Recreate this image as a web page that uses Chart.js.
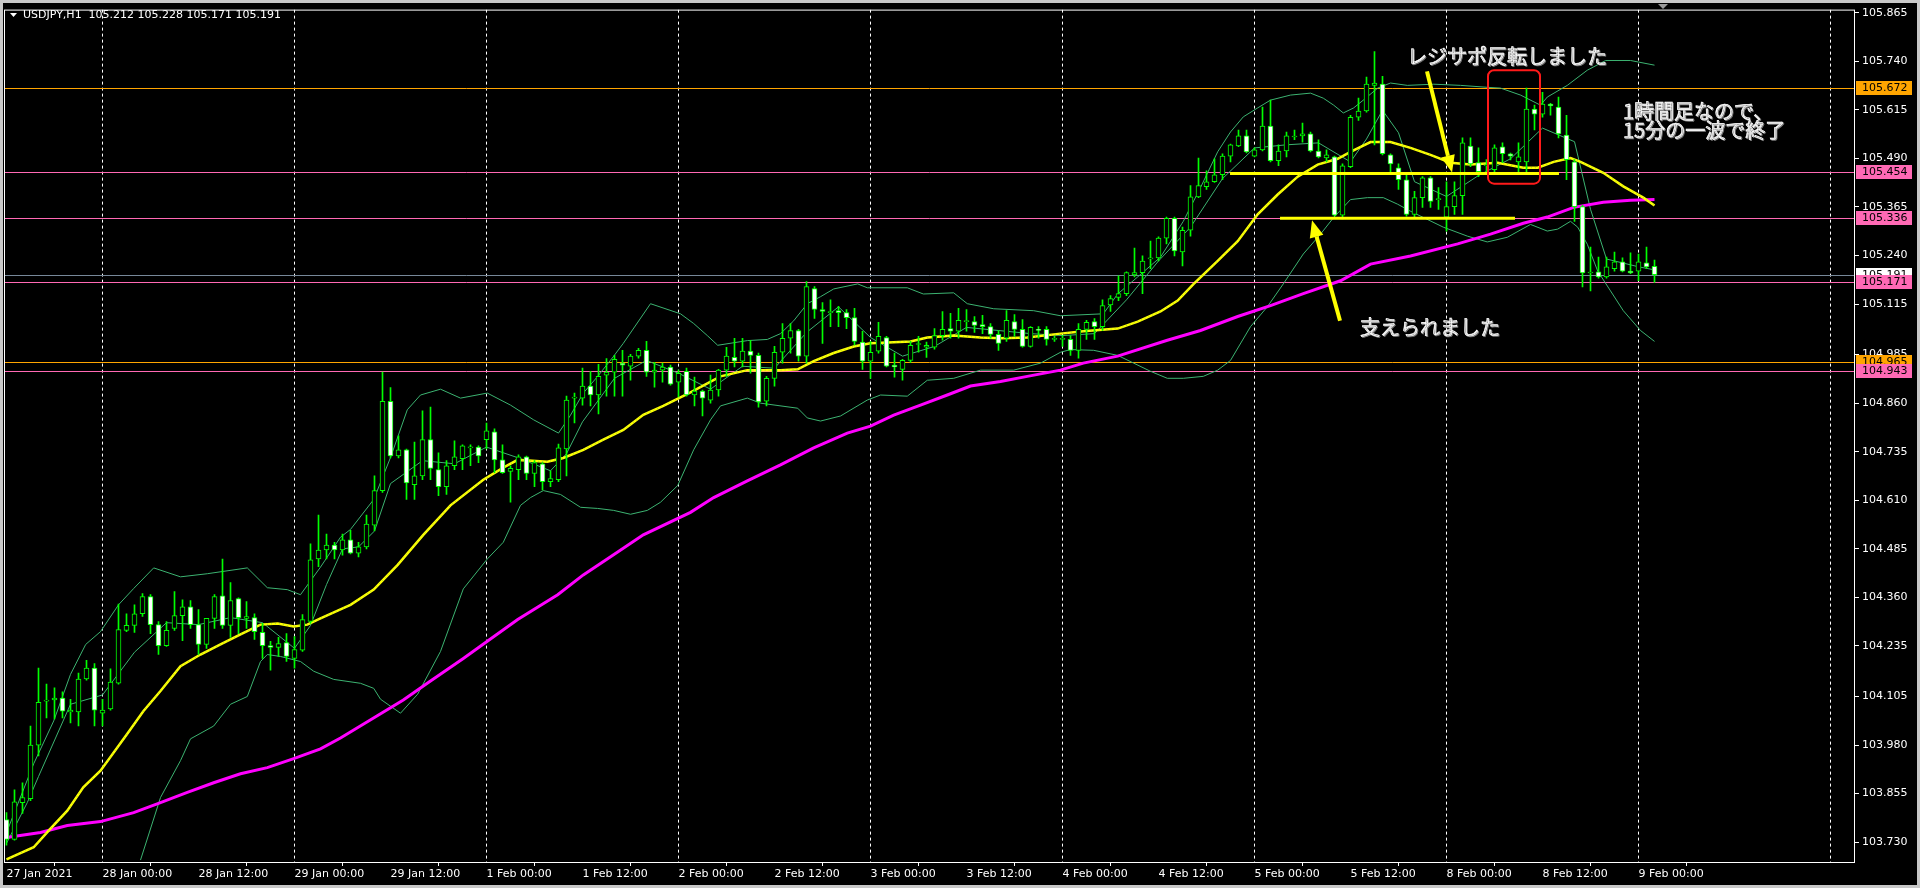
<!DOCTYPE html>
<html>
<head>
<meta charset="utf-8">
<title>USDJPY,H1</title>
<style>
  html, body { margin: 0; padding: 0; background: #000; }
  canvas { display: block; }
</style>
</head>
<body>
<canvas id="chart" width="1920" height="888"></canvas>
<script src="https://cdn.jsdelivr.net/npm/chart.js@4.4.0/dist/chart.umd.min.js"></script>
<script>
// ---- candles (bar 0 = 27 Jan 12:00, one bar per hour) ----
const opens = [
  103.788,103.737,103.832,103.842,103.980,104.093,104.096,104.101,104.065,104.065,
  104.150,104.178,104.062,104.073,104.139,104.275,104.288,104.318,104.362,104.290,
  104.236,104.280,104.313,104.336,104.290,104.239,104.306,104.364,104.288,104.357,
  104.306,104.308,104.270,104.236,104.231,104.244,104.203,104.224,104.298,104.459,
  104.482,104.495,104.482,104.508,104.474,104.490,104.546,104.635,104.865,104.724,
  104.740,104.650,104.673,104.766,104.689,104.645,104.699,104.717,104.745,104.747,
  104.766,104.786,104.714,104.684,104.689,104.722,104.679,104.704,104.658,104.663,
  104.742,104.873,104.873,104.904,104.881,104.932,104.940,104.963,104.955,104.981,
  104.996,104.940,104.945,104.953,104.914,104.942,104.881,104.891,104.868,104.894,
  104.945,104.978,104.968,104.994,104.983,104.865,104.924,104.991,105.027,105.047,
  104.981,105.155,105.101,105.093,105.098,105.093,105.080,105.017,104.968,104.994,
  105.029,104.958,104.947,104.970,105.011,105.004,105.004,105.034,105.052,105.045,
  105.070,105.070,105.062,105.057,105.037,105.027,105.070,105.050,105.006,105.050,
  105.050,105.024,105.024,105.024,104.996,105.050,105.070,105.057,105.113,105.132,
  105.142,105.190,105.196,105.231,105.234,105.285,105.336,105.249,105.305,105.391,
  105.417,105.430,105.448,105.496,105.522,105.548,105.496,105.512,105.573,105.484,
  105.509,105.545,105.548,105.553,105.509,105.491,105.494,105.344,105.469,105.596,
  105.612,105.678,105.681,105.499,105.466,105.435,105.346,105.389,105.440,105.384,
  105.339,105.366,105.394,105.522,105.479,105.471,105.461,105.520,105.502,105.481,
  105.481,105.617,105.604,105.630,105.622,105.550,105.481,105.366,105.195,105.198,
  105.185,105.206,105.224,105.200,105.200,105.221,105.212
];
const highs = [
  103.806,103.865,103.883,104.029,104.178,104.137,104.127,104.117,104.098,104.165,
  104.198,104.190,104.098,104.176,104.343,104.318,104.341,104.370,104.367,104.298,
  104.298,104.375,104.354,104.352,104.329,104.306,104.367,104.459,104.398,104.359,
  104.349,104.318,104.293,104.247,104.257,104.267,104.259,104.316,104.498,104.572,
  104.523,104.502,104.523,104.533,104.502,104.572,104.673,104.940,104.900,104.776,
  104.742,104.760,104.840,104.850,104.732,104.712,104.763,104.753,104.753,104.750,
  104.809,104.794,104.753,104.699,104.727,104.724,104.712,104.707,104.686,104.755,
  104.878,104.886,104.950,104.942,104.960,104.975,104.983,104.996,104.986,105.001,
  105.019,104.965,104.963,104.958,104.945,104.950,104.927,104.894,104.932,104.947,
  105.004,105.027,105.027,105.022,104.989,104.929,105.006,105.065,105.065,105.050,
  105.173,105.160,105.119,105.126,105.109,105.101,105.104,105.045,105.019,105.068,
  105.032,104.989,104.973,105.019,105.032,105.017,105.052,105.096,105.091,105.104,
  105.101,105.083,105.086,105.065,105.047,105.098,105.088,105.075,105.057,105.057,
  105.057,105.032,105.034,105.034,105.065,105.073,105.078,105.126,105.137,105.188,
  105.198,105.259,105.239,105.277,105.288,105.339,105.339,105.313,105.420,105.491,
  105.458,105.489,105.502,105.527,105.563,105.563,105.517,105.622,105.640,105.525,
  105.558,105.563,105.581,105.558,105.538,105.512,105.496,105.476,105.601,105.645,
  105.699,105.765,105.701,105.502,105.476,105.448,105.405,105.443,105.443,105.415,
  105.430,105.430,105.543,105.543,105.517,105.487,105.525,105.530,105.504,105.530,
  105.671,105.627,105.660,105.632,105.648,105.601,105.487,105.369,105.262,105.236,
  105.236,105.249,105.234,105.247,105.244,105.262,105.228
];
const lows = [
  103.722,103.735,103.804,103.837,103.952,104.050,104.047,104.050,104.037,104.029,
  104.147,104.029,104.029,104.070,104.137,104.272,104.270,104.311,104.267,104.213,
  104.234,104.275,104.249,104.280,104.213,104.229,104.280,104.280,104.257,104.267,
  104.280,104.252,104.203,104.173,104.208,104.195,104.178,104.221,104.293,104.439,
  104.459,104.459,104.469,104.472,104.464,104.485,104.531,104.630,104.719,104.719,
  104.612,104.612,104.663,104.663,104.622,104.625,104.689,104.689,104.699,104.707,
  104.742,104.681,104.679,104.605,104.663,104.663,104.645,104.637,104.645,104.658,
  104.673,104.809,104.855,104.853,104.832,104.878,104.878,104.878,104.919,104.976,
  104.929,104.901,104.914,104.906,104.876,104.878,104.853,104.827,104.860,104.878,
  104.929,104.953,104.953,104.937,104.850,104.853,104.904,104.963,104.989,104.968,
  104.963,105.078,105.014,105.057,105.057,105.052,105.009,104.947,104.924,104.989,
  104.953,104.927,104.919,104.965,104.991,104.978,104.999,105.022,105.027,105.027,
  105.045,105.042,105.039,105.027,104.996,105.019,105.032,105.004,105.004,105.027,
  105.009,105.019,105.006,104.983,104.976,105.024,105.024,105.047,105.096,105.124,
  105.137,105.185,105.142,105.206,105.226,105.270,105.239,105.213,105.290,105.389,
  105.410,105.428,105.435,105.481,105.520,105.504,105.494,105.509,105.481,105.471,
  105.494,105.538,105.532,105.507,105.491,105.481,105.341,105.334,105.466,105.588,
  105.609,105.525,105.499,105.448,105.410,105.341,105.339,105.364,105.364,105.359,
  105.303,105.346,105.346,105.469,105.443,105.453,105.453,105.479,105.486,105.456,
  105.453,105.563,105.596,105.601,105.543,105.435,105.328,105.159,105.149,105.182,
  105.182,105.200,105.198,105.193,105.175,105.206,105.171
];
const closes = [
  103.737,103.834,103.845,103.980,104.090,104.096,104.101,104.067,104.070,104.150,
  104.178,104.070,104.070,104.142,104.277,104.288,104.318,104.362,104.290,104.236,
  104.275,104.313,104.336,104.290,104.239,104.306,104.362,104.288,104.352,104.308,
  104.311,104.272,104.236,104.231,104.241,104.208,104.226,104.303,104.457,104.482,
  104.495,104.482,104.508,104.474,104.490,104.549,104.635,104.865,104.724,104.740,
  104.655,104.673,104.766,104.692,104.645,104.699,104.722,104.750,104.747,104.724,
  104.789,104.714,104.681,104.692,104.722,104.679,104.707,104.658,104.666,104.745,
  104.868,104.873,104.904,104.881,104.929,104.940,104.973,104.958,104.981,104.996,
  104.940,104.945,104.953,104.909,104.937,104.881,104.891,104.873,104.894,104.945,
  104.981,104.968,104.994,104.983,104.863,104.924,104.991,105.027,105.047,104.981,
  105.160,105.101,105.096,105.096,105.093,105.080,105.019,104.968,104.991,105.032,
  104.955,104.953,104.970,105.009,105.011,105.009,105.034,105.050,105.045,105.073,
  105.070,105.060,105.057,105.037,105.014,105.073,105.050,105.006,105.055,105.047,
  105.024,105.024,105.024,104.996,105.050,105.068,105.057,105.111,105.129,105.142,
  105.196,105.196,105.226,105.234,105.285,105.336,105.252,105.305,105.391,105.420,
  105.430,105.448,105.496,105.525,105.548,105.507,105.512,105.573,105.484,105.509,
  105.548,105.545,105.553,105.509,105.494,105.499,105.344,105.471,105.596,105.612,
  105.681,105.684,105.502,105.476,105.435,105.346,105.389,105.440,105.379,105.384,
  105.366,105.394,105.530,105.476,105.456,105.471,105.517,105.502,105.496,105.494,
  105.617,105.604,105.630,105.625,105.553,105.487,105.366,105.195,105.195,105.185,
  105.211,105.224,105.200,105.195,105.224,105.211,105.191
];

// ---- indicator lines at these bar positions ----
const yellowBars = [0,3.4,5.5,7.6,9.6,11.75,15.1,17.1,19.25,21.75,24.25,26.75,29.25,31.75,33.9,35.9,37.6,39.25,41.75,43,45.9,48.9,52.1,55.5,59.6,62.1,63.9,67.6,69.6,72.1,74.6,77.1,79.6,82.1,85.5,89.25,92.6,96.75,98.9,100.9,103.4,105.9,108,113,115.1,118.4,121.75,124.25,127.6,131.75,134.6,138.9,141.4,144.25,146.4,148.4,151.4,153.9,156.4,158.9,161.4,163.9,166.4,168,170.5,173,175.5,178,180.5,183,186.4,189.6,191.4,193.4,195.5,196.75,199.6,202.1,204.6,206];
const yellowValues = [103.686,103.717,103.765,103.811,103.871,103.914,104.009,104.067,104.119,104.183,104.213,104.239,104.265,104.290,104.293,104.285,104.290,104.306,104.329,104.341,104.380,104.444,104.521,104.597,104.663,104.694,104.714,104.709,104.719,104.740,104.766,104.791,104.830,104.853,104.888,104.929,104.945,104.945,104.947,104.968,104.989,105.006,105.014,105.019,105.029,105.034,105.029,105.027,105.029,105.039,105.045,105.052,105.070,105.096,105.124,105.167,105.226,105.277,105.346,105.397,105.443,105.474,105.489,105.507,105.532,105.532,105.517,105.499,105.479,105.474,105.479,105.466,105.466,105.481,105.491,105.481,105.453,105.418,105.389,105.369];

const magentaBars = [0,4.25,7.6,11.75,15.9,19.25,22.6,25.9,29.25,32.6,35.9,39.25,41.75,49.6,53,57.1,60.1,63.9,68.9,72.1,76.4,79.6,85.5,88.4,92.6,96.75,100.9,105.1,108,110.9,114.25,117.6,120.5,124.25,127.6,131.75,134.6,138.9,145.1,149.25,153.9,158,162.1,166.75,170.5,175.5,181.4,185.5,189.6,192.6,195.9,199.6,203,206];
const magentaValues = [103.742,103.755,103.773,103.783,103.806,103.832,103.858,103.883,103.906,103.922,103.945,103.970,103.998,104.096,104.145,104.203,104.247,104.303,104.367,104.418,104.477,104.521,104.579,104.617,104.660,104.701,104.745,104.783,104.801,104.829,104.855,104.881,104.904,104.916,104.929,104.945,104.963,104.981,105.022,105.047,105.083,105.111,105.142,105.175,105.218,105.239,105.270,105.295,105.323,105.339,105.364,105.377,105.382,105.384];

const upperBars = [0.1,3.4,5.9,8,9.9,11.75,14,15.9,18.4,21.75,25.1,30.1,32.6,35.1,36.75,39.25,41.75,43,45.9,48,50.1,51.75,54.25,56.75,60.1,63,65.9,69,70.5,72.1,73.9,75.9,77.1,80.5,84.25,85.9,87.6,88.9,92.6,95.1,96.75,98.4,100.1,101.75,103.4,106.4,107.6,112.6,114.6,118.4,120.1,123.4,128.4,131.75,137.1,138.9,141.4,144.25,147.1,149.25,151.4,153,154.6,156.4,158,160.5,163,164.6,165.9,167.1,168.4,169.6,171.4,173,175.1,178.4,181.75,185.1,186.75,189.25,191.75,192.6,195.1,197.6,199.9,203,206];
const upperValues = [103.760,103.932,104.042,104.162,104.239,104.272,104.341,104.383,104.436,104.413,104.421,104.436,104.385,104.380,104.367,104.438,104.515,104.535,104.612,104.720,104.843,104.881,104.896,104.873,104.886,104.855,104.817,104.783,104.829,104.886,104.929,104.981,105.014,105.116,105.090,105.065,105.034,105.009,105.021,105.024,105.039,105.072,105.116,105.134,105.154,105.167,105.157,105.157,105.141,105.144,105.116,105.103,105.098,105.085,105.090,105.141,105.185,105.236,105.328,105.415,105.507,105.558,105.597,105.620,105.640,105.653,105.658,105.645,105.627,105.607,105.620,105.640,105.671,105.684,105.678,105.681,105.678,105.673,105.671,105.653,105.627,105.648,105.678,105.717,105.742,105.742,105.730];

const lowerBars = [16.75,19.25,21.75,23,25.9,28,30.1,31.75,32.6,34.25,36.75,38.4,40.9,44.25,45.9,46.75,49.25,51.4,54.25,57.1,60.1,62.1,64.25,65.5,67.1,69.25,71.75,73.9,75.9,78,80.1,81.75,83.9,85.9,88,89.25,92.6,94.25,98.9,100.1,101.75,104.25,107.6,109.25,112.6,115.1,118.4,121.75,125.9,129.25,131.75,133,135.9,138.9,140.9,143,145.1,147.1,149.6,151.4,153,155.5,157.6,159.6,162.1,164.25,165.9,168,170.1,172.1,173.9,175.5,177.1,179.6,182.6,185.1,187.6,190.5,192.6,193.9,195.5,196.4,197.6,198.9,200.5,202.1,204.25,206];
const lowerValues = [103.684,103.845,103.940,103.996,104.029,104.085,104.105,104.195,104.213,104.208,104.195,104.170,104.149,104.139,104.126,104.098,104.062,104.111,104.221,104.382,104.459,104.502,104.597,104.617,104.635,104.625,104.592,104.589,104.584,104.574,104.584,104.605,104.648,104.740,104.817,104.853,104.873,104.860,104.847,104.822,104.814,104.827,104.868,104.881,104.878,104.919,104.924,104.945,104.945,104.963,104.991,104.998,104.996,104.983,104.963,104.942,104.924,104.924,104.929,104.945,104.970,105.057,105.108,105.167,105.244,105.295,105.338,105.384,105.389,105.389,105.372,105.354,105.338,105.313,105.290,105.275,105.287,105.320,105.303,105.308,105.328,105.313,105.269,105.200,105.149,105.098,105.047,105.019];

const fastBars = [0,2.6,4,8,12,16,20,24,28,32,36,38,40,42,44,46,48,52,56,60,64,68,70,72,76,80,84,88,92,96,100,104,108,112,116,120,124,128,132,136,140,144,148,152,156,160,164,168,170,172,174,176,180,184,188,192,196,198,200,204,206];
const fastValues = [103.727,103.832,103.899,104.085,104.109,104.219,104.295,104.290,104.308,104.295,104.229,104.288,104.393,104.485,104.490,104.531,104.653,104.712,104.704,104.747,104.719,104.686,104.730,104.812,104.924,104.970,104.937,104.896,104.955,104.950,105.042,105.108,105.029,104.981,105.006,105.055,105.047,105.039,105.034,105.039,105.126,105.226,105.313,105.438,105.517,105.525,105.530,105.481,105.540,105.614,105.556,105.430,105.392,105.446,105.489,105.568,105.533,105.359,105.231,105.211,105.203];

// ---- axes ----
const xTickBars = [0,12,24,36,48,60,72,84,96,108,120,132,144,156,168,180,192,204];
const xTickLabels = ['27 Jan 2021','28 Jan 00:00','28 Jan 12:00','29 Jan 00:00','29 Jan 12:00','1 Feb 00:00','1 Feb 12:00','2 Feb 00:00','2 Feb 12:00','3 Feb 00:00','3 Feb 12:00','4 Feb 00:00','4 Feb 12:00','5 Feb 00:00','5 Feb 12:00','8 Feb 00:00','8 Feb 12:00','9 Feb 00:00'];
const dayBreakBars = [12,36,60,84,108,132,156,180,204,228];
const yTicks = [105.865,105.740,105.615,105.490,105.365,105.240,105.115,104.985,104.860,104.735,104.610,104.485,104.360,104.235,104.105,103.980,103.855,103.730];

// ---- horizontal levels and their price tags ----
const levelPrices = [105.672,105.454,105.336,105.191,105.171,104.965,104.943];
const levelColors = ['#ffa500','#ff69b4','#ff69b4','#778899','#ff69b4','#ffa500','#ff69b4'];
const levelTagColors = ['#ffa500','#ff69b4','#ff69b4','#ffffff','#ff69b4','#ffa500','#ff69b4'];

// ---- hand drawn notes ----
const srFrom = [152.94, 159.19];
const srTo = [194.06, 188.56];
const srPrice = [105.451, 105.336];
const arrowTail = [[177.56, 105.714], [166.69, 105.072]];
const arrowTip = [[180.69, 105.454], [163.19, 105.331]];
const boxBars = [185.19, 191.69];
const boxPrices = [105.717, 105.425];
const noteTexts = ['レジサポ反転しました', '支えられました', '1時間足なので、', '15分の一波で終了'];
const noteBars = [175.06, 169.19, 202.06, 202.06];
const notePrices = [105.753, 105.055, 105.612, 105.561];

const AXIS_FONT = '11px "DejaVu Sans"';
const bars = opens.map((_, i) => i);
const pts = (xs, ys) => xs.map((v, k) => ({ x: v, y: ys[k] }));

const overlay = {
  id: 'overlay',
  beforeDraw(chart) {
    const c = chart.ctx;
    c.save();
    c.fillStyle = '#000';
    c.fillRect(0, 0, chart.width, chart.height);
    c.restore();
  },
  beforeDatasetsDraw(chart) {
    const { ctx: c, chartArea: a, scales: { x, y } } = chart;
    c.save();
    c.beginPath();
    c.rect(a.left, a.top, a.right - a.left, a.bottom - a.top);
    c.clip();
    c.lineWidth = 1;
    c.strokeStyle = '#ffffff';
    c.setLineDash([3, 3]);
    dayBreakBars.forEach(b => {
      const px = Math.floor(x.getPixelForValue(b)) + 0.5;
      c.beginPath(); c.moveTo(px, a.top); c.lineTo(px, a.bottom); c.stroke();
    });
    c.setLineDash([]);
    levelPrices.forEach((p, k) => {
      const py = Math.round(y.getPixelForValue(p)) + 0.5;
      c.strokeStyle = levelColors[k];
      c.beginPath(); c.moveTo(a.left, py); c.lineTo(a.right, py); c.stroke();
    });
    c.restore();
  },
  afterDatasetsDraw(chart) {
    const { ctx: c, chartArea: a, scales: { x, y } } = chart;
    const px = v => x.getPixelForValue(v);
    const py = v => y.getPixelForValue(v);
    c.save();
    c.beginPath();
    c.rect(a.left, a.top, a.right - a.left, a.bottom - a.top);
    c.clip();

    // support / resistance lines
    c.strokeStyle = '#ffff00';
    c.lineWidth = 3;
    srFrom.forEach((f, k) => {
      c.beginPath(); c.moveTo(px(f), py(srPrice[k])); c.lineTo(px(srTo[k]), py(srPrice[k])); c.stroke();
    });

    // arrows
    c.fillStyle = '#ffff00';
    arrowTail.forEach((t, k) => {
      const x1 = px(t[0]), y1 = py(t[1]), x2 = px(arrowTip[k][0]), y2 = py(arrowTip[k][1]);
      const ang = Math.atan2(y2 - y1, x2 - x1), len = 17, half = 7;
      const bx = x2 - len * Math.cos(ang), by = y2 - len * Math.sin(ang);
      c.lineWidth = 4;
      c.beginPath(); c.moveTo(x1, y1); c.lineTo(bx, by); c.stroke();
      c.beginPath();
      c.moveTo(x2, y2);
      c.lineTo(bx + half * Math.sin(ang), by - half * Math.cos(ang));
      c.lineTo(bx - half * Math.sin(ang), by + half * Math.cos(ang));
      c.closePath(); c.fill();
    });

    // red box
    c.strokeStyle = '#ff1a1a';
    c.lineWidth = 2;
    const rx = px(boxBars[0]), ry = py(boxPrices[0]);
    c.beginPath();
    c.roundRect(rx, ry, px(boxBars[1]) - rx, py(boxPrices[1]) - ry, 6);
    c.stroke();

    // notes
    c.font = '20px "Noto Sans CJK JP"';
    c.textBaseline = 'middle';
    c.textAlign = 'left';
    c.fillStyle = '#ffffff';
    c.strokeStyle = '#ffffff';
    c.lineWidth = 0.6;
    c.shadowColor = '#7a7a7a';
    c.shadowOffsetX = 1;
    c.shadowOffsetY = 1;
    noteTexts.forEach((t, k) => {
      c.fillText(t, px(noteBars[k]), py(notePrices[k]));
      c.strokeText(t, px(noteBars[k]), py(notePrices[k]));
    });
    c.restore();
  },
  afterDraw(chart) {
    const { ctx: c, chartArea: a, scales: { y } } = chart;
    c.save();
    // window frame
    c.fillStyle = '#c8c8c8';
    c.fillRect(0, 0, chart.width, 3);
    c.fillRect(0, 0, 3, chart.height);
    c.fillRect(chart.width - 3, 0, 3, chart.height);
    c.fillRect(0, chart.height - 3, chart.width, 3);
    // chart border
    c.strokeStyle = '#ffffff';
    c.lineWidth = 1;
    c.strokeRect(a.left + 0.5, a.top + 0.5, a.right - a.left - 1, a.bottom - a.top);

    // price tags on the axis
    c.font = AXIS_FONT;
    c.textBaseline = 'middle';
    c.textAlign = 'left';
    levelPrices.forEach((p, k) => {
      const py = Math.round(y.getPixelForValue(p));
      c.fillStyle = levelTagColors[k];
      c.fillRect(a.right + 1, py - 7, 56, 14);
      c.fillStyle = '#000000';
      c.fillText(p.toFixed(3), a.right + 7, py + 0.5);
    });

    // header
    c.fillStyle = '#ffffff';
    c.beginPath(); c.moveTo(10, 13); c.lineTo(17, 13); c.lineTo(13.5, 17); c.closePath(); c.fill();
    c.fillText('USDJPY,H1  105.212 105.228 105.171 105.191', 23, 15);

    // chart shift marker
    c.fillStyle = '#9a9a9a';
    c.beginPath(); c.moveTo(1658, 4); c.lineTo(1668, 4); c.lineTo(1663, 9); c.closePath(); c.fill();
    c.restore();
  }
};

const lineSet = (xs, ys, color, width, order, dash) => ({
  type: 'line',
  data: pts(xs, ys),
  borderColor: color,
  borderWidth: width,
  borderDash: dash || [],
  pointRadius: 0,
  tension: 0,
  fill: false,
  order: order
});

new Chart(document.getElementById('chart'), {
  type: 'bar',
  data: {
    datasets: [
      {
        data: bars.map(i => ({ x: i, y: [opens[i], closes[i]] })),
        backgroundColor: bars.map(i => closes[i] < opens[i] ? '#ffffff' : '#000000'),
        borderColor: '#00ff00',
        borderWidth: 1,
        borderSkipped: false,
        barThickness: 5,
        minBarLength: 1,
        grouped: false,
        order: 0
      },
      {
        data: bars.map(i => ({ x: i, y: [lows[i], highs[i]] })),
        backgroundColor: '#00ff00',
        borderWidth: 0,
        barThickness: 1,
        grouped: false,
        order: 1
      },
      lineSet(yellowBars, yellowValues, 'rgba(60,179,113,0.5)', 1, 2, [1, 3]),
      lineSet(yellowBars, yellowValues, '#ffff00', 2.5, 3),
      lineSet(magentaBars, magentaValues, '#ff00ff', 3, 4),
      lineSet(fastBars, fastValues, '#3cb371', 1, 5),
      lineSet(upperBars, upperValues, '#3cb371', 1, 6),
      lineSet(lowerBars, lowerValues, '#3cb371', 1, 7)
    ]
  },
  options: {
    responsive: false,
    animation: false,
    devicePixelRatio: 1,
    events: [],
    layout: {
      autoPadding: false,
      padding: { left: 4, top: 4, right: 3, bottom: 3 }
    },
    plugins: {
      legend: { display: false },
      tooltip: { enabled: false }
    },
    scales: {
      x: {
        type: 'linear',
        min: -0.3125,
        max: 231.0625,
        offset: false,
        afterBuildTicks: scale => { scale.ticks = xTickBars.map(v => ({ value: v })); },
        afterFit: scale => { scale.height = 23; },
        ticks: {
          autoSkip: false,
          maxRotation: 0,
          minRotation: 0,
          align: 'start',
          padding: 2,
          color: '#ffffff',
          font: { family: 'DejaVu Sans', size: 11 },
          callback: (v, idx) => xTickLabels[idx]
        },
        grid: { drawOnChartArea: false, drawTicks: true, tickLength: 4, color: '#ffffff' },
        border: { display: false }
      },
      y: {
        position: 'right',
        min: 103.679,
        max: 105.873,
        afterBuildTicks: scale => { scale.ticks = yTicks.map(v => ({ value: v })); },
        afterFit: scale => { scale.width = 62; },
        ticks: {
          autoSkip: false,
          padding: 3,
          color: '#ffffff',
          font: { family: 'DejaVu Sans', size: 11 },
          callback: v => v.toFixed(3)
        },
        grid: { drawOnChartArea: false, drawTicks: true, tickLength: 4, color: '#ffffff' },
        border: { display: false }
      }
    }
  },
  plugins: [overlay]
});
</script>
</body>
</html>
